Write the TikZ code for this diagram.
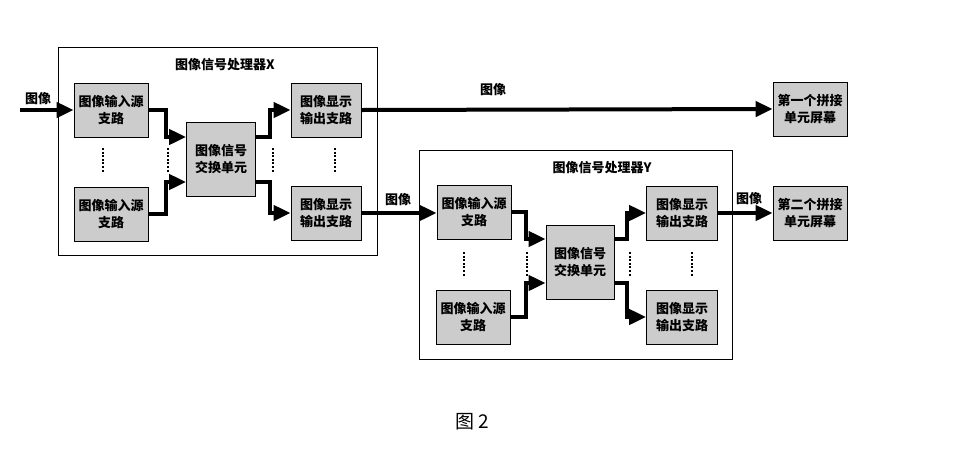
\documentclass[tikz,border=0pt]{standalone}
\usepackage{fontspec}
\newfontfamily\cjk{Noto Sans CJK SC}
\usetikzlibrary{arrows.meta,positioning}

\tikzset{
  unitbox/.style={draw, line width=0.7pt, fill=gray!40, align=center, inner sep=0pt,
    minimum width=74pt, minimum height=54pt,
    font=\cjk\bfseries\fontsize{13}{17}\selectfont},
  flow/.style={line width=4pt, -{Triangle[length=17pt,width=15pt]}},
  dotline/.style={line width=2.4pt, dash pattern=on 2pt off 1.6pt},
  lbl/.style={font=\cjk\bfseries\fontsize{13}{15}\selectfont}
}

\begin{document}
\begin{tikzpicture}[x=1pt,y=-1pt]
\useasboundingbox[fill=white] (0,0) rectangle (964,456);
% processor X
\draw[line width=0.7pt] (58,47) rectangle (377,255);
\node[lbl] (xtitle) at (225,65) {图像信号处理器X};
\node[unitbox] (xin1) at (111,110) {图像输入源\\支路};
\node[unitbox] (xin2) at (111,214) {图像输入源\\支路};
\node[unitbox, minimum width=69pt, minimum height=74pt] (xsw) at (221,159) {图像信号\\交换单元};
\node[unitbox, minimum width=70pt] (xout1) at (326,110) {图像显示\\输出支路};
\node[unitbox, minimum width=70pt] (xout2) at (326,213) {图像显示\\输出支路};
% processor Y
\draw[line width=0.7pt] (419,150) rectangle (732,359);
\node[lbl] (ytitle) at (602,168) {图像信号处理器Y};
\node[unitbox] (yin1) at (474,212) {图像输入源\\支路};
\node[unitbox] (yin2) at (473,317) {图像输入源\\支路};
\node[unitbox, minimum width=68pt, minimum height=74pt] (ysw) at (580,262) {图像信号\\交换单元};
\node[unitbox, minimum width=71pt] (yout1) at (682,213) {图像显示\\输出支路};
\node[unitbox, minimum width=71pt] (yout2) at (682,317) {图像显示\\输出支路};
% screens
\node[unitbox] (scr1) at (810,109) {第一个拼接\\单元屏幕};
\node[unitbox] (scr2) at (810,213) {第二个拼接\\单元屏幕};

\coordinate (src) at (20,110);
\draw[flow] (src) -- (xin1.west);
\node[lbl] (l0) at (38,99) {图像};

% inside X
\draw[flow] (xin1.east) -- ++(18,0) |- ([yshift=22pt]xsw.west);
\draw[flow] (xin2.east) -- ++(18,0) |- ([yshift=-23pt]xsw.west);
\draw[flow] ([yshift=22pt]xsw.east) -- ++(14,0) |- (xout1.west);
\draw[flow] ([yshift=-23pt]xsw.east) -- ++(14,0) |- (xout2.west);

% X to screen / Y
\draw[flow] (xout1.east) -- (scr1.west);
\node[lbl] (l1) at (493,90) {图像};
\draw[flow] (xout2.east) -- (xout2.east -| yin1.west);
\node[lbl] (l2) at (398,200) {图像};

% inside Y
\draw[flow] (yin1.east) -- ++(15,0) |- ([yshift=23pt]ysw.west);
\draw[flow] (yin2.east) -- ++(16,0) |- ([yshift=-21pt]ysw.west);
\draw[flow] ([yshift=23pt]ysw.east) -- ++(13,0) |- (yout1.west);
\draw[flow] ([yshift=-21pt]ysw.east) -- ++(13,0) |- (yout2.west);

\draw[flow] (yout1.east) -- (scr2.west);
\node[lbl] (l3) at (749,199) {图像};

% dots
\foreach \x in {103,168,273,335}
  \draw[dotline] (\x,148) -- (\x,173);
\foreach \x in {464,527,630,692}
  \draw[dotline] (\x,252) -- (\x,277);

\node[font=\cjk\fontsize{19}{22}\selectfont] (cap) at (472,422) {图 2};
\end{tikzpicture}
\end{document}
